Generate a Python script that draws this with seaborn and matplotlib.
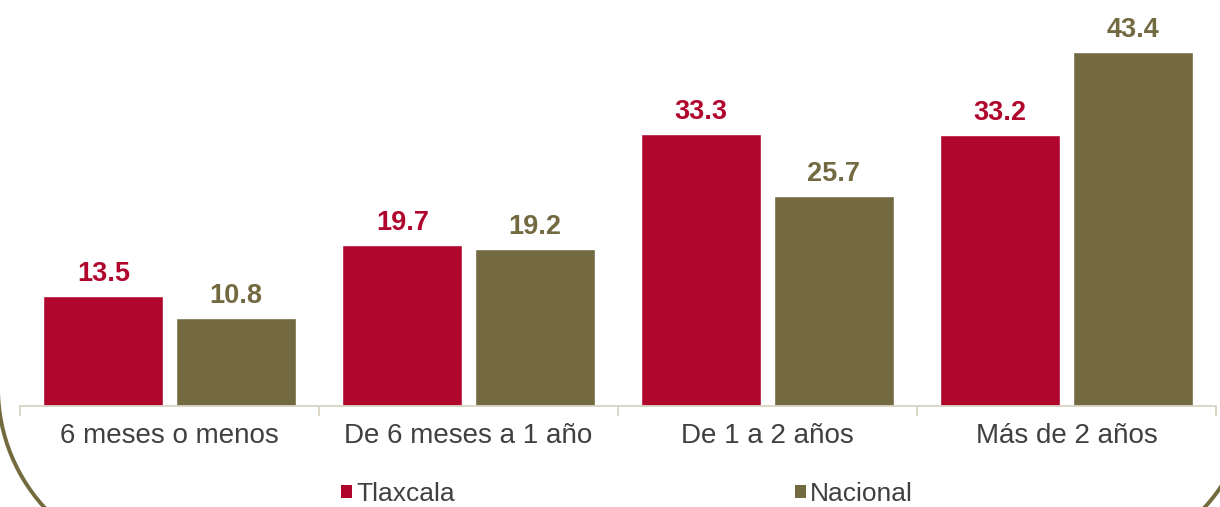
import matplotlib
matplotlib.use("Agg")
import matplotlib.pyplot as plt
from matplotlib.patches import Patch, Arc
import seaborn as sns
import pandas as pd

# Duración en el empleo: Tlaxcala frente al promedio nacional (%)
categorias = ["6 meses o menos", "De 6 meses a 1 año", "De 1 a 2 años", "Más de 2 años"]
series = ["Tlaxcala", "Nacional"]
tlaxcala = [13.5, 19.7, 33.3, 33.2]
nacional = [10.8, 19.2, 25.7, 43.4]

colores = {"Tlaxcala": "#b0062e", "Nacional": "#736a42"}
gris_texto = "#404040"
beige_eje = "#d8d4c2"
color_marco = "#736a3e"

df = pd.DataFrame({
    "categoria": categorias * 2,
    "serie": [series[0]] * len(categorias) + [series[1]] * len(categorias),
    "valor": tlaxcala + nacional,
})

sns.set_style("white")
plt.rcParams["font.family"] = ["Liberation Sans", "DejaVu Sans"]

W, H, DPI = 1220, 507, 100
fig = plt.figure(figsize=(W / DPI, H / DPI), dpi=DPI)
ax = fig.add_axes([20 / W, (H - 406) / H, 1196 / W, 406 / H])

sns.barplot(data=df, x="categoria", y="valor", hue="serie", order=categorias,
            hue_order=series, palette=colores, width=0.886, gap=0.094,
            saturation=1, legend=False, ax=ax)

ax.set_xlim(-0.5, 3.5)
ax.set_ylim(0, 49.77)
ax.set_xlabel("")
ax.set_ylabel("")
ax.set_yticks([])

# Etiquetas de valor sobre cada barra
for cont, serie in zip(ax.containers, series):
    for barra in cont:
        h = barra.get_height()
        ax.annotate(f"{h:.1f}", (barra.get_x() + barra.get_width() / 2, h),
                    xytext=(0, 10.8), textcoords="offset points",
                    ha="center", va="baseline", fontsize=19.5,
                    fontweight="bold", color=colores[serie])

# Eje de categorías
for lado in ("left", "top", "right"):
    ax.spines[lado].set_visible(False)
ax.spines["bottom"].set_color(beige_eje)
ax.spines["bottom"].set_linewidth(1.3)
ax.set_xticks(range(len(categorias)))
ax.set_xticklabels(categorias)
ax.set_xticks([-0.5, 0.5, 1.5, 2.5, 3.5], minor=True)
ax.tick_params(axis="x", which="major", length=0, pad=12, labelsize=20,
               labelcolor=gris_texto)
ax.tick_params(axis="x", which="minor", length=7.2, width=1.3,
               color=beige_eje, bottom=True)

# Leyenda inferior
manejadores = [Patch(facecolor=colores[s], edgecolor="none", label=s) for s in series]
fig.legend(handles=manejadores, loc="center", bbox_to_anchor=(0.514, 1 - 494 / H),
           ncol=2, frameon=False, fontsize=19, handlelength=0.42,
           handleheight=0.42, handletextpad=0.15, columnspacing=12.9,
           labelcolor=gris_texto, borderpad=0)

# Esquinas redondeadas del marco (en pulgadas desde la esquina inferior izquierda)
radio = 1.77
for centro, t1, t2 in [((1.75, 1.19), 180, 270), ((10.74, 1.19), 270, 360)]:
    esquina = Arc(centro, 2 * radio, 2 * radio, theta1=t1, theta2=t2,
                  transform=fig.dpi_scale_trans, edgecolor=color_marco,
                  linewidth=2.8, clip_on=False)
    fig.patches.append(esquina)

fig.savefig("out.png", dpi=DPI)
